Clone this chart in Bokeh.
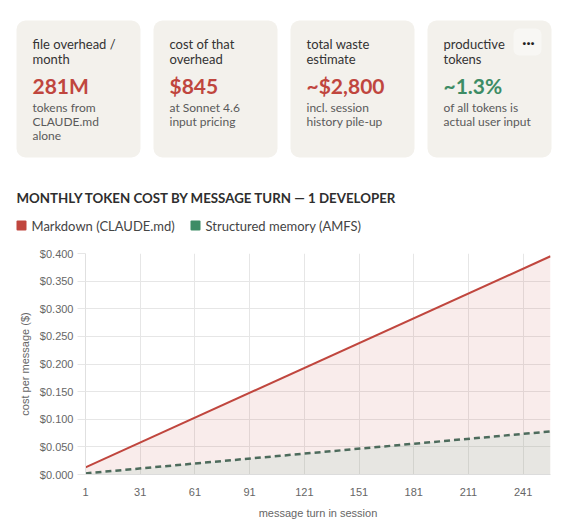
from bokeh.plotting import figure
from bokeh.models import Range1d, FixedTicker, NumeralTickFormatter, ColumnDataSource
from bokeh.core.properties import value
from bokeh.embed import file_html
from bokeh.resources import INLINE

# ---------------- data ----------------
turns = [1, 256]
markdown_cost = [0.013, 0.395]
amfs_cost = [0.002, 0.078]
x_ticks = [1, 31, 61, 91, 121, 151, 181, 211, 241]
y_ticks = [0.0, 0.05, 0.10, 0.15, 0.20, 0.25, 0.30, 0.35, 0.40]
series_names = ["Markdown (CLAUDE.md)", "Structured memory (AMFS)"]

card_titles = [["file overhead /", "month"], ["cost of that", "overhead"],
               ["total waste", "estimate"], ["productive", "tokens"]]
card_values = ["281M", "$845", "~$2,800", "~1.3%"]
card_notes = [["tokens from", "CLAUDE.md", "alone"], ["at Sonnet 4.6", "input pricing"],
              ["incl. session", "history pile-up"], ["of all tokens is", "actual user input"]]
card_kinds = ["bad", "bad", "bad", "good"]

chart_title = "MONTHLY TOKEN COST BY MESSAGE TURN \u2014 1 DEVELOPER"

# ---------------- styles ----------------
RED = "#c0463e"
GREEN = "#3d8c65"
GREEN_LINE = "#4d6b5c"
CARD_BG = "#f3f1ec"
UI_FONT = "Lato"
AX_FONT = "Liberation Sans"

W = 571
TOP_H = 240
CH = 290

# ---------------- top panel (cards, title, legend) ----------------
top = figure(width=W, height=TOP_H, x_range=Range1d(0, W), y_range=Range1d(TOP_H, 0),
             x_axis_location=None, y_axis_location=None,
             output_backend="svg", toolbar_location=None, min_border=0)
top.grid.visible = False
top.outline_line_color = None
top.background_fill_color = "white"
top.border_fill_color = "white"

n = len(card_values)
lefts = [16 + i * 137 for i in range(n)]
top.quad(left=lefts, right=[l + 124 for l in lefts], top=[20] * n, bottom=[157] * n,
         fill_color=CARD_BG, line_color=None, border_radius=9)

tx, ty, tt = [], [], []
for i, lines in enumerate(card_titles):
    for j, s in enumerate(lines):
        tx.append(lefts[i] + 16); ty.append(43 + 15 * j); tt.append(s)
top.text(x=tx, y=ty, text=tt, text_font=value(UI_FONT), text_font_size="13px",
         text_color="#333333", text_baseline="middle")

vcol = [RED if k == "bad" else GREEN for k in card_kinds]
top.text(x=[l + 16 for l in lefts], y=[85] * n, text=card_values, text_color=vcol,
         text_font=value(UI_FONT), text_font_size="21px", text_font_style="bold",
         text_baseline="middle")

nx, ny, nt = [], [], []
for i, lines in enumerate(card_notes):
    for j, s in enumerate(lines):
        nx.append(lefts[i] + 16); ny.append(107 + 14 * j); nt.append(s)
top.text(x=nx, y=ny, text=nt, text_font=value(UI_FONT), text_font_size="12px",
         text_color="#5a5a5a", text_baseline="middle")

# "..." menu button on the last card
top.quad(left=[513], right=[541], top=[28], bottom=[55], fill_color="#f8f7f4",
         line_color=None, border_radius=6)
top.text(x=[528], y=[41], text=["\u00b7\u00b7\u00b7"], text_align="center", text_baseline="middle",
         text_font=value(UI_FONT), text_font_size="15px", text_font_style="bold", text_color="#222222")

# chart title
top.text(x=[16], y=[197], text=[chart_title], text_font=value(UI_FONT), text_font_size="13.3px",
         text_font_style="bold", text_color="#2e2e2e", text_baseline="middle")

# legend
leg_x = [16, 190]
top.quad(left=leg_x, right=[x + 10 for x in leg_x], top=[220, 220], bottom=[230, 230],
         fill_color=[RED, GREEN], line_color=None, border_radius=1)
top.text(x=[x + 15 for x in leg_x], y=[225, 225], text=series_names, text_font=value(UI_FONT),
         text_font_size="13px", text_color="#444444", text_baseline="middle")

# ---------------- chart ----------------
p = figure(width=W, height=CH, x_range=Range1d(turns[0], turns[-1]), y_range=Range1d(0, 0.4),
           output_backend="svg", toolbar_location=None,
           min_border_left=85, min_border_right=21, min_border_top=13, min_border_bottom=56)
p.outline_line_color = None
p.background_fill_color = "white"
p.border_fill_color = "white"

src = ColumnDataSource(dict(t=turns, md=markdown_cost, am=amfs_cost))
p.varea(x="t", y1=0, y2="md", source=src, fill_color=RED, fill_alpha=0.1)
p.varea(x="t", y1=0, y2="am", source=src, fill_color="#81cbb0", fill_alpha=0.15)
p.line(x="t", y="md", source=src, line_color=RED, line_width=2)
p.line(x="t", y="am", source=src, line_color=GREEN_LINE, line_width=2.5, line_dash="6 4")

p.xaxis.ticker = FixedTicker(ticks=x_ticks)
p.yaxis.ticker = FixedTicker(ticks=y_ticks)
p.yaxis.formatter = NumeralTickFormatter(format="$0.000")
p.xgrid.ticker = FixedTicker(ticks=x_ticks)
p.ygrid.ticker = FixedTicker(ticks=y_ticks)
p.grid.grid_line_color = "#e6e6e6"
p.grid.grid_line_width = 1

for ax in (p.xaxis, p.yaxis):
    ax.major_tick_in = 0
    ax.minor_tick_out = 0
    ax.minor_tick_in = 0
    ax.major_tick_line_color = "#e6e6e6"
    ax.major_label_text_font = AX_FONT
    ax.major_label_text_font_size = "11px"
    ax.major_label_text_color = "#666666"
    ax.axis_label_text_font = AX_FONT
    ax.axis_label_text_font_size = "11px"
    ax.axis_label_text_font_style = "normal"
    ax.axis_label_text_color = "#666666"

p.yaxis.major_tick_out = 8
p.xaxis.major_tick_out = 0
p.yaxis.axis_line_color = "#e0e0e0"
p.xaxis.axis_line_color = "#dcdcdc"
p.yaxis.major_label_standoff = 4
p.xaxis.major_label_standoff = 13
p.yaxis.axis_label = "cost per message ($)"
p.xaxis.axis_label = "message turn in session"
p.yaxis.axis_label_standoff = 6
p.xaxis.axis_label_standoff = 8

open("out.html", "w").write(file_html([top, p], INLINE))
